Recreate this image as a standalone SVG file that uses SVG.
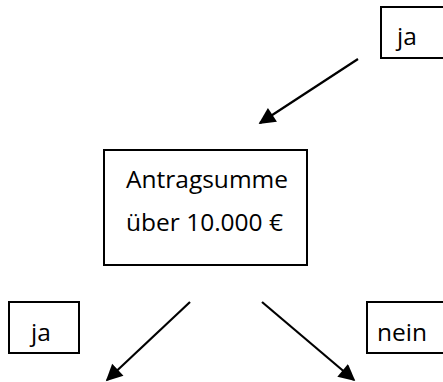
<svg xmlns="http://www.w3.org/2000/svg" width="443" height="382" viewBox="0 0 443 382">
<style>
.box{fill:#fff;stroke:#000;stroke-width:2}
.lbl{font-family:"Open Sans","Liberation Sans",sans-serif;font-size:24.5px;fill:#000}
.edge{stroke:#000;stroke-width:2.2;fill:none;marker-end:url(#ah)}
</style>
<defs>
<marker id="ah" viewBox="0 0 10 10" refX="9" refY="5" markerWidth="8" markerHeight="7.5" markerUnits="strokeWidth" orient="auto">
<path d="M0,0 L10,5 L0,10 z" fill="#000"/>
</marker>
</defs>
<rect width="443" height="382" fill="#fff"/>
<g id="connectors">
<line class="edge" x1="358" y1="59" x2="260" y2="123"/>
<line class="edge" x1="190" y1="302" x2="107" y2="380"/>
<line class="edge" x1="262" y1="302" x2="354" y2="380"/>
</g>
<g id="node-ja-top">
<rect class="box" x="381" y="7" width="70" height="51"/>
<text class="lbl" x="397" y="45">ja</text>
</g>
<g id="node-antragsumme">
<rect class="box" x="104" y="150" width="203" height="115"/>
<text class="lbl" x="126" y="188">Antragsumme</text>
<text class="lbl" x="126" y="231">über 10.000 €</text>
</g>
<g id="node-ja-left">
<rect class="box" x="9" y="302" width="70" height="51"/>
<text class="lbl" x="31" y="341">ja</text>
</g>
<g id="node-nein">
<rect class="box" x="367" y="302" width="80" height="51"/>
<text class="lbl" x="377" y="341">nein</text>
</g>
</svg>
